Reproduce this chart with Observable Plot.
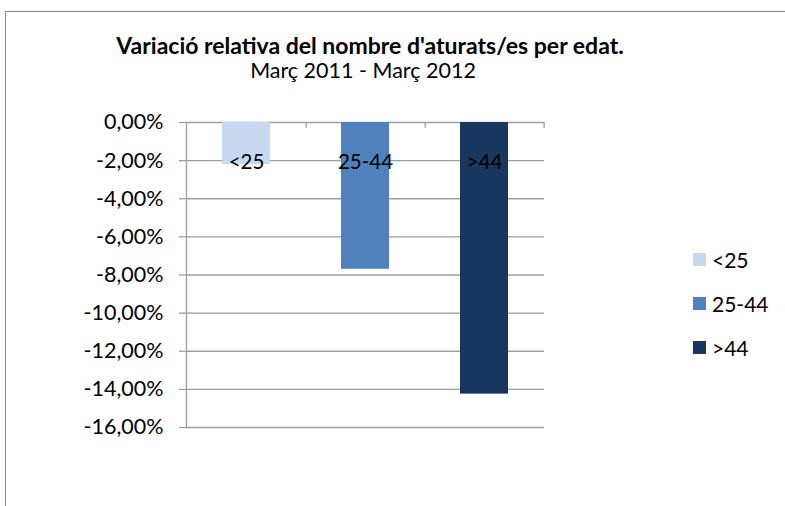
<!DOCTYPE html>
<html>
<head>
<meta charset="utf-8">
<script src="https://cdn.jsdelivr.net/npm/d3@7"></script>
<script src="https://cdn.jsdelivr.net/npm/@observablehq/plot@0.6"></script>
<style>
  body { margin: 0; background: #fff; font-family: Lato, "Open Sans", sans-serif; }
  #wrap { position: relative; width: 785px; height: 506px; overflow: hidden; }
  #border { position: absolute; left: 5px; top: 11px; width: 800px; height: 520px; border-left: 1px solid #8c8c8c; border-top: 1px solid #8c8c8c; }
  #title { position: absolute; left: 0; top: 31px; width: 740px; text-align: center; font-weight: bold; font-size: 23px; line-height: 28px; color: #000; }
  #subtitle { position: absolute; left: 0; top: 57px; width: 726px; text-align: center; font-size: 21.5px; line-height: 26px; color: #000; }
  #legend { position: absolute; left: 693px; top: 237px; font-size: 21px; color: #000; }
  .item { display: flex; align-items: center; height: 44px; }
  .item span.sw { display: inline-block; width: 13px; height: 13px; margin-right: 6px; }
  #chart { position: absolute; left: 0; top: 0; }
</style>
</head>
<body>
<div id="wrap">
  <div id="border"></div>
  <div id="chart"></div>
  <div id="title">Variació relativa del nombre d'aturats/es per edat.</div>
  <div id="subtitle">Març 2011 - Març 2012</div>
  <div id="legend"></div>
</div>
<script>
const categories = ["<25", "25-44", ">44"];
const values = [-2.2, -7.7, -14.25];
const colors = ["#c6d9f1", "#4f81bd", "#17375e"];
const yTicks = [0, -2, -4, -6, -8, -10, -12, -14, -16];

const data = categories.map((c, i) => ({cat: c, value: values[i]}));
const fmt = d => (Math.abs(d) < 1e-9 ? 0 : d).toFixed(2).replace(".", ",") + "%";
const grid = "#9e9e9e";

const W = 785, H = 506;
const mL = 186, mR = 241;
const step = (W - mL - mR) / categories.length;

const chart = Plot.plot({
  width: W,
  height: H,
  marginLeft: mL,
  marginRight: mR,
  marginTop: 122,
  marginBottom: 79,
  style: {fontFamily: "Lato, 'Open Sans', sans-serif", fontSize: "21px", color: "#000", background: "transparent"},
  x: {domain: categories, paddingInner: 0.6, paddingOuter: 0.3, axis: null},
  y: {domain: [-16, 0], ticks: yTicks},
  color: {domain: categories, range: colors},
  marks: [
    Plot.gridY(yTicks, {stroke: grid, strokeOpacity: 1, strokeWidth: 1.3}),
    Plot.axisY(yTicks, {tickFormat: fmt, tickSize: 7, tickPadding: 16, stroke: grid, strokeWidth: 1.3, label: null, fontSize: 21.5, fill: "#000"}),
    Plot.barY(data, {x: "cat", y: "value", fill: "cat"}),
    Plot.frame({anchor: "left", stroke: grid, strokeWidth: 1.3}),
    Plot.ruleX(categories, {x: d => d, y1: 0, y2: -0.3, dx: step / 2, stroke: grid, strokeWidth: 1.3}),
    Plot.text(data, {x: "cat", y: 0, text: "cat", dy: 40, fontSize: 20.5, fill: "#000"})
  ]
});
document.getElementById("chart").appendChild(chart);

const legend = document.getElementById("legend");
categories.forEach((c, i) => {
  const div = document.createElement("div");
  div.className = "item";
  const sw = document.createElement("span");
  sw.className = "sw";
  sw.style.background = colors[i];
  const t = document.createElement("span");
  t.textContent = c;
  div.appendChild(sw);
  div.appendChild(t);
  legend.appendChild(div);
});
</script>
</body>
</html>
